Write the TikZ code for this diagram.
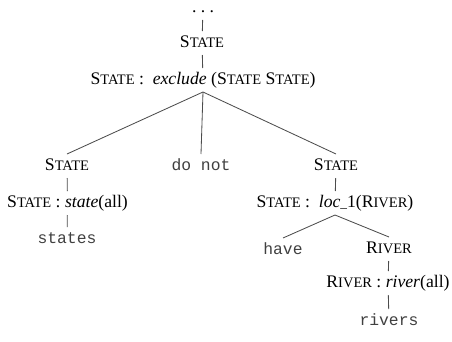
\documentclass[tikz,border=0pt]{standalone}
\usepackage{fontspec}
\setmainfont{Liberation Serif}
\setmonofont{Liberation Mono}
% small caps built from a full-size initial and reduced capitals
\newcommand{\fsc}[2]{#1{\fontsize{8.7}{10}\selectfont #2}}
\newcommand{\cState}{\fsc{S}{TATE}}
\newcommand{\cRiver}{\fsc{R}{IVER}}
\begin{document}
\begin{tikzpicture}[x=0.6pt,y=-0.6pt,
  lbl/.style={inner xsep=0pt,inner ysep=2.5pt,text height=7pt,text depth=2pt,font=\fontsize{10.6}{12}\selectfont},
  word/.style={lbl,font=\ttfamily\fontsize{9.8}{12}\selectfont,text=black!75},
  edge/.style={draw=black!70,line width=0.5pt}]
\useasboundingbox (0,0) rectangle (452,341);

% root of the derivation
\node[lbl] (dots) at (203,8) {.\hspace{2.6pt}.\hspace{2.6pt}.};
\node[lbl] (top) at (202,43) {\cState};
\node[lbl] (excl) at (203,80) {\cState\ :\ \ \textit{exclude} (\cState\ \cState)};

% left subtree
\node[lbl] (ls) at (67,166) {\cState};
\node[lbl] (lsa) at (67.5,203) {\cState\ : \textit{state}(all)};
\node[word] (states) at (67,239) {states};

% middle words
\node[word] (donot) at (201,166) {do not};

% right subtree
\node[lbl] (rs) at (336,166) {\cState};
\node[lbl] (loc) at (335,203) {\cState\ :\ \ \textit{loc}{\fontsize{8}{10}\selectfont\_}1(\cRiver)};
\node[word] (have) at (283,250) {have};
\node[lbl] (riv) at (389,249) {\cRiver};
\node[lbl] (riva) at (388,283) {\cRiver\ : \textit{river}(all)};
\node[word] (rivers) at (389,321) {rivers};

% connectors
\draw[edge] (dots) -- (top);
\draw[edge] (top) -- (excl);
\draw[edge] (excl.south) -- (ls.north);
\draw[edge] (excl.south) -- (donot.north);
\draw[edge] (excl.south) -- (rs.north);
\draw[edge] (ls) -- (lsa);
\draw[edge] (lsa) -- (states);
\draw[edge] (rs) -- (loc);
\draw[edge] (loc.south) -- (have.north);
\draw[edge] (loc.south) -- (riv.north);
\draw[edge] (riv) -- (riva);
\draw[edge] (riva) -- (rivers);
\end{tikzpicture}
\end{document}
